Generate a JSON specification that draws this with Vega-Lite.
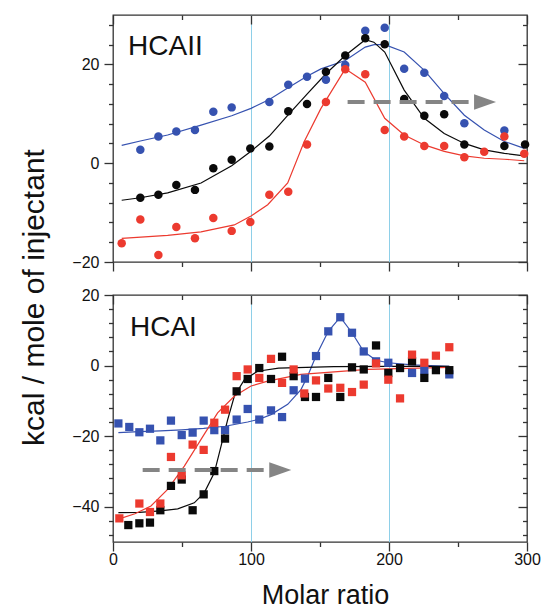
{
  "$schema": "https://vega.github.io/schema/vega-lite/v6.json",
  "padding": {"left": 18, "top": 13, "right": 5, "bottom": 0},
  "background": "white",
  "spacing": 33,
  "bounds": "flush",
  "config": {
    "view": {"stroke": "#333333", "strokeWidth": 1.3},
    "font": "Liberation Sans",
    "axis": {
      "labelFont": "Liberation Sans", "labelFontSize": 16, "labelColor": "#111111",
      "tickColor": "#333333", "tickWidth": 1.3, "domain": false,
      "titleFont": "Liberation Sans", "titleFontWeight": "normal", "titleColor": "#111111",
      "grid": false, "labelOverlap": false, "labelFlush": false
    }
  },
  "datasets": {
    "top": [
      {"k":"pt","s":"blue","x":19.8,"y":2.7},{"k":"pt","s":"blue","x":32.9,"y":5.4},{"k":"pt","s":"blue","x":45.9,"y":6.4},{"k":"pt","s":"blue","x":59.4,"y":6.7},{"k":"pt","s":"blue","x":72.7,"y":10.4},{"k":"pt","s":"blue","x":86,"y":11.3},{"k":"pt","s":"blue","x":113.3,"y":12.4},{"k":"pt","s":"blue","x":127,"y":15.9},{"k":"pt","s":"blue","x":140.6,"y":17.5},{"k":"pt","s":"blue","x":154.3,"y":16.9},{"k":"pt","s":"blue","x":168.3,"y":19.9},{"k":"pt","s":"blue","x":182.8,"y":26.8},{"k":"pt","s":"blue","x":196.9,"y":27.4},{"k":"pt","s":"blue","x":211,"y":19.1},{"k":"pt","s":"blue","x":225.6,"y":18.3},{"k":"pt","s":"blue","x":240,"y":13.6},{"k":"pt","s":"blue","x":254.6,"y":8.1},{"k":"pt","s":"blue","x":283.6,"y":6.6},
      {"k":"pt","s":"black","x":19.8,"y":-7.0},{"k":"pt","s":"black","x":32.9,"y":-6.4},{"k":"pt","s":"black","x":45.9,"y":-4.4},{"k":"pt","s":"black","x":59.4,"y":-5.4},{"k":"pt","s":"black","x":72.7,"y":-1.0},{"k":"pt","s":"black","x":86,"y":0.7},{"k":"pt","s":"black","x":99.5,"y":3.0},{"k":"pt","s":"black","x":113.3,"y":3.4},{"k":"pt","s":"black","x":127,"y":10.5},{"k":"pt","s":"black","x":140.6,"y":12.0},{"k":"pt","s":"black","x":154.3,"y":18.5},{"k":"pt","s":"black","x":168.3,"y":21.8},{"k":"pt","s":"black","x":182.8,"y":25.3},{"k":"pt","s":"black","x":196.9,"y":24.1},{"k":"pt","s":"black","x":211,"y":13.0},{"k":"pt","s":"black","x":225.6,"y":9.6},{"k":"pt","s":"black","x":240,"y":9.9},{"k":"pt","s":"black","x":254.6,"y":3.8},{"k":"pt","s":"black","x":283.6,"y":3.5},{"k":"pt","s":"black","x":298.6,"y":3.8},
      {"k":"pt","s":"red","x":6.3,"y":-16.2},{"k":"pt","s":"red","x":19.8,"y":-11.4},{"k":"pt","s":"red","x":32.9,"y":-18.6},{"k":"pt","s":"red","x":45.9,"y":-12.9},{"k":"pt","s":"red","x":59.4,"y":-15.2},{"k":"pt","s":"red","x":72.7,"y":-11.1},{"k":"pt","s":"red","x":86,"y":-13.7},{"k":"pt","s":"red","x":99.5,"y":-11.9},{"k":"pt","s":"red","x":113.3,"y":-6.4},{"k":"pt","s":"red","x":127,"y":-5.8},{"k":"pt","s":"red","x":140.6,"y":3.8},{"k":"pt","s":"red","x":154.3,"y":12.4},{"k":"pt","s":"red","x":168.3,"y":19.0},{"k":"pt","s":"red","x":182.8,"y":18.0},{"k":"pt","s":"red","x":196.9,"y":6.7},{"k":"pt","s":"red","x":211,"y":5.4},{"k":"pt","s":"red","x":225.6,"y":3.5},{"k":"pt","s":"red","x":240,"y":3.5},{"k":"pt","s":"red","x":254.6,"y":1.2},{"k":"pt","s":"red","x":269,"y":2.3},{"k":"pt","s":"red","x":283.6,"y":5.4},{"k":"pt","s":"red","x":298,"y":1.9},
      {"k":"fit","s":"blue","x":6.3,"y":3.6},{"k":"fit","s":"blue","x":19.8,"y":4.5},{"k":"fit","s":"blue","x":39.6,"y":5.7},{"k":"fit","s":"blue","x":63.8,"y":7.7},{"k":"fit","s":"blue","x":86,"y":9.6},{"k":"fit","s":"blue","x":100,"y":11.1},{"k":"fit","s":"blue","x":113.3,"y":12.9},{"k":"fit","s":"blue","x":126.6,"y":15.2},{"k":"fit","s":"blue","x":140.6,"y":17.6},{"k":"fit","s":"blue","x":150.7,"y":19.1},{"k":"fit","s":"blue","x":168.3,"y":20.8},{"k":"fit","s":"blue","x":182.8,"y":23.5},{"k":"fit","s":"blue","x":189.3,"y":24.0},{"k":"fit","s":"blue","x":196.9,"y":24.0},{"k":"fit","s":"blue","x":211,"y":22.5},{"k":"fit","s":"blue","x":225.6,"y":18.8},{"k":"fit","s":"blue","x":240,"y":14.1},{"k":"fit","s":"blue","x":254.6,"y":9.7},{"k":"fit","s":"blue","x":269,"y":6.7},{"k":"fit","s":"blue","x":283.6,"y":4.4},{"k":"fit","s":"blue","x":298,"y":3.0},
      {"k":"fit","s":"black","x":6.3,"y":-7.5},{"k":"fit","s":"black","x":19.8,"y":-7.0},{"k":"fit","s":"black","x":39.6,"y":-6.0},{"k":"fit","s":"black","x":63.8,"y":-4.0},{"k":"fit","s":"black","x":86,"y":-0.5},{"k":"fit","s":"black","x":100,"y":2.4},{"k":"fit","s":"black","x":113.3,"y":5.5},{"k":"fit","s":"black","x":126.6,"y":9.7},{"k":"fit","s":"black","x":140.6,"y":14.0},{"k":"fit","s":"black","x":154.3,"y":18.1},{"k":"fit","s":"black","x":168.3,"y":21.8},{"k":"fit","s":"black","x":182.8,"y":25.0},{"k":"fit","s":"black","x":189,"y":24.5},{"k":"fit","s":"black","x":196.9,"y":22.5},{"k":"fit","s":"black","x":211,"y":14.8},{"k":"fit","s":"black","x":225.6,"y":9.1},{"k":"fit","s":"black","x":240,"y":6.0},{"k":"fit","s":"black","x":254.6,"y":4.0},{"k":"fit","s":"black","x":269,"y":2.7},{"k":"fit","s":"black","x":283.6,"y":2.0},{"k":"fit","s":"black","x":298,"y":1.5},
      {"k":"fit","s":"red","x":6.3,"y":-15.2},{"k":"fit","s":"red","x":39.6,"y":-14.6},{"k":"fit","s":"red","x":63.8,"y":-13.9},{"k":"fit","s":"red","x":87.9,"y":-12.5},{"k":"fit","s":"red","x":100,"y":-10.7},{"k":"fit","s":"red","x":112.1,"y":-8.4},{"k":"fit","s":"red","x":126.6,"y":-4.0},{"k":"fit","s":"red","x":138.6,"y":4.4},{"k":"fit","s":"red","x":150.7,"y":11.1},{"k":"fit","s":"red","x":168.3,"y":19.1},{"k":"fit","s":"red","x":182.8,"y":16.4},{"k":"fit","s":"red","x":196.9,"y":9.1},{"k":"fit","s":"red","x":211,"y":5.7},{"k":"fit","s":"red","x":225.6,"y":3.7},{"k":"fit","s":"red","x":240,"y":2.4},{"k":"fit","s":"red","x":254.6,"y":1.5},{"k":"fit","s":"red","x":269,"y":1.0},{"k":"fit","s":"red","x":283.6,"y":0.8},{"k":"fit","s":"red","x":298,"y":0.5},
      {"k":"arrow","x":170,"y":12.4},{"k":"arrow","x":262,"y":12.4},
      {"k":"head","x":269.6,"y":12.4},
      {"k":"label","x":10.9,"y":21.9,"t":"HCAII"}
    ],
    "bot": [
      {"k":"pt","s":"blue","x":3.9,"y":-16.4},{"k":"pt","s":"blue","x":11.8,"y":-17.4},{"k":"pt","s":"blue","x":19.1,"y":-18.9},{"k":"pt","s":"blue","x":26.8,"y":-17.9},{"k":"pt","s":"blue","x":34.3,"y":-21.2},{"k":"pt","s":"blue","x":42,"y":-15.6},{"k":"pt","s":"blue","x":49.8,"y":-19.7},{"k":"pt","s":"blue","x":57.7,"y":-19.0},{"k":"pt","s":"blue","x":65.7,"y":-15.6},{"k":"pt","s":"blue","x":73.4,"y":-18.3},{"k":"pt","s":"blue","x":81.2,"y":-18.3},{"k":"pt","s":"blue","x":89.6,"y":-15.3},{"k":"pt","s":"blue","x":97.6,"y":-12.3},{"k":"pt","s":"blue","x":106,"y":-15.3},{"k":"pt","s":"blue","x":114.5,"y":-12.7},{"k":"pt","s":"blue","x":122.5,"y":-14.6},{"k":"pt","s":"blue","x":130.9,"y":-7.0},{"k":"pt","s":"blue","x":139.1,"y":-3.7},{"k":"pt","s":"blue","x":147.1,"y":2.7},{"k":"pt","s":"blue","x":156,"y":9.7},{"k":"pt","s":"blue","x":164.7,"y":13.7},{"k":"pt","s":"blue","x":173.2,"y":9.3},{"k":"pt","s":"blue","x":181.7,"y":4.0},{"k":"pt","s":"blue","x":190.6,"y":1.2},{"k":"pt","s":"blue","x":199.5,"y":0.8},{"k":"pt","s":"blue","x":216.7,"y":-2.1},{"k":"pt","s":"blue","x":225.6,"y":-1.3},{"k":"pt","s":"blue","x":243.7,"y":-2.5},
      {"k":"pt","s":"black","x":11.1,"y":-45.2},{"k":"pt","s":"black","x":19.1,"y":-44.7},{"k":"pt","s":"black","x":26.8,"y":-44.5},{"k":"pt","s":"black","x":34.3,"y":-41.0},{"k":"pt","s":"black","x":42,"y":-34.1},{"k":"pt","s":"black","x":49.8,"y":-32.3},{"k":"pt","s":"black","x":57.7,"y":-41.0},{"k":"pt","s":"black","x":65.7,"y":-36.5},{"k":"pt","s":"black","x":73.4,"y":-29.9},{"k":"pt","s":"black","x":81.2,"y":-20.7},{"k":"pt","s":"black","x":89.6,"y":-7.3},{"k":"pt","s":"black","x":97.6,"y":-3.8},{"k":"pt","s":"black","x":106,"y":-0.7},{"k":"pt","s":"black","x":114.5,"y":-3.8},{"k":"pt","s":"black","x":122.5,"y":2.5},{"k":"pt","s":"black","x":130.9,"y":-3.0},{"k":"pt","s":"black","x":139.1,"y":-8.9},{"k":"pt","s":"black","x":147.1,"y":-8.9},{"k":"pt","s":"black","x":156,"y":-3.5},{"k":"pt","s":"black","x":164.7,"y":-8.9},{"k":"pt","s":"black","x":173.2,"y":-0.5},{"k":"pt","s":"black","x":181.7,"y":-1.1},{"k":"pt","s":"black","x":190.6,"y":5.7},{"k":"pt","s":"black","x":199.5,"y":-2.1},{"k":"pt","s":"black","x":208,"y":-0.7},{"k":"pt","s":"black","x":216.7,"y":1.2},{"k":"pt","s":"black","x":225.6,"y":-3.5},{"k":"pt","s":"black","x":234,"y":-1.3},{"k":"pt","s":"black","x":243.7,"y":-1.3},
      {"k":"pt","s":"red","x":4.6,"y":-43.3},{"k":"pt","s":"red","x":19.1,"y":-39.1},{"k":"pt","s":"red","x":26.8,"y":-41.5},{"k":"pt","s":"red","x":34.3,"y":-39.1},{"k":"pt","s":"red","x":42,"y":-25.9},{"k":"pt","s":"red","x":49.8,"y":-31.1},{"k":"pt","s":"red","x":57.7,"y":-22.4},{"k":"pt","s":"red","x":65.7,"y":-23.9},{"k":"pt","s":"red","x":73.4,"y":-16.2},{"k":"pt","s":"red","x":81.2,"y":-12.5},{"k":"pt","s":"red","x":89.6,"y":-3.0},{"k":"pt","s":"red","x":97.6,"y":-1.1},{"k":"pt","s":"red","x":106,"y":-3.5},{"k":"pt","s":"red","x":114.5,"y":1.9},{"k":"pt","s":"red","x":122.5,"y":-4.9},{"k":"pt","s":"red","x":130.9,"y":-1.1},{"k":"pt","s":"red","x":138.6,"y":-7.9},{"k":"pt","s":"red","x":147.1,"y":-4.2},{"k":"pt","s":"red","x":156,"y":-6.5},{"k":"pt","s":"red","x":164.7,"y":-6.3},{"k":"pt","s":"red","x":173.2,"y":-7.5},{"k":"pt","s":"red","x":181.7,"y":-5.4},{"k":"pt","s":"red","x":190.6,"y":0.6},{"k":"pt","s":"red","x":199.5,"y":-4.0},{"k":"pt","s":"red","x":208,"y":-9.3},{"k":"pt","s":"red","x":216.7,"y":3.1},{"k":"pt","s":"red","x":225.6,"y":0.8},{"k":"pt","s":"red","x":234,"y":2.8},{"k":"pt","s":"red","x":243.7,"y":5.2},
      {"k":"fit","s":"blue","x":3.9,"y":-19.0},{"k":"fit","s":"blue","x":19.1,"y":-18.7},{"k":"fit","s":"blue","x":34.3,"y":-18.5},{"k":"fit","s":"blue","x":49.8,"y":-18.2},{"k":"fit","s":"blue","x":65.7,"y":-17.8},{"k":"fit","s":"blue","x":81.2,"y":-17.2},{"k":"fit","s":"blue","x":97.6,"y":-16.0},{"k":"fit","s":"blue","x":106,"y":-15.2},{"k":"fit","s":"blue","x":114.5,"y":-13.9},{"k":"fit","s":"blue","x":126.6,"y":-11.0},{"k":"fit","s":"blue","x":136.2,"y":-6.8},{"k":"fit","s":"blue","x":141,"y":-3.0},{"k":"fit","s":"blue","x":147.1,"y":2.7},{"k":"fit","s":"blue","x":156,"y":9.7},{"k":"fit","s":"blue","x":164.7,"y":13.7},{"k":"fit","s":"blue","x":173.2,"y":9.3},{"k":"fit","s":"blue","x":181.7,"y":4.0},{"k":"fit","s":"blue","x":190.6,"y":1.5},{"k":"fit","s":"blue","x":199.5,"y":0.8},{"k":"fit","s":"blue","x":216.7,"y":0.2},{"k":"fit","s":"blue","x":243.7,"y":-0.2},
      {"k":"fit","s":"black","x":3.9,"y":-41.7},{"k":"fit","s":"black","x":19.1,"y":-41.6},{"k":"fit","s":"black","x":34.3,"y":-41.2},{"k":"fit","s":"black","x":46.9,"y":-40.6},{"k":"fit","s":"black","x":58.9,"y":-38.9},{"k":"fit","s":"black","x":66.2,"y":-36.0},{"k":"fit","s":"black","x":73.4,"y":-30.4},{"k":"fit","s":"black","x":78.3,"y":-22.8},{"k":"fit","s":"black","x":83.1,"y":-15.3},{"k":"fit","s":"black","x":87.9,"y":-8.7},{"k":"fit","s":"black","x":95.2,"y":-4.0},{"k":"fit","s":"black","x":104.8,"y":-1.6},{"k":"fit","s":"black","x":120,"y":-0.7},{"k":"fit","s":"black","x":160,"y":-0.3},{"k":"fit","s":"black","x":200,"y":-0.2},{"k":"fit","s":"black","x":243.7,"y":-0.2},
      {"k":"fit","s":"red","x":3.9,"y":-43.5},{"k":"fit","s":"red","x":15.9,"y":-42.0},{"k":"fit","s":"red","x":27.5,"y":-39.8},{"k":"fit","s":"red","x":39.6,"y":-35.1},{"k":"fit","s":"red","x":51.7,"y":-28.5},{"k":"fit","s":"red","x":63.8,"y":-20.9},{"k":"fit","s":"red","x":75.8,"y":-13.4},{"k":"fit","s":"red","x":87.9,"y":-8.7},{"k":"fit","s":"red","x":100,"y":-5.8},{"k":"fit","s":"red","x":112.1,"y":-4.4},{"k":"fit","s":"red","x":136.2,"y":-2.5},{"k":"fit","s":"red","x":184.5,"y":-1.1},{"k":"fit","s":"red","x":243.7,"y":-0.5},
      {"k":"arrow","x":21.5,"y":-29.6},{"k":"arrow","x":113,"y":-29.6},
      {"k":"head","x":121.2,"y":-29.6},
      {"k":"label","x":12.3,"y":8.4,"t":"HCAI"}
    ]
  },
  "vconcat": [
    {
      "width": 414, "height": 247,
      "data": {"name": "top"},
      "layer": [
        {
          "transform": [{"filter": "datum.k === 'fit'"}],
          "mark": {"type": "line", "strokeWidth": 1.2},
          "encoding": {
            "x": {"field": "x", "type": "quantitative", "scale": {"domain": [0, 300], "nice": false, "zero": false},
                  "axis": {"orient": "bottom", "values": [0, 50, 100, 150, 200, 250, 300], "labels": false, "title": null,
                           "tickSize": {"condition": {"test": "datum.value % 100 === 0", "value": 9}, "value": 4.5},
                           "grid": true, "gridColor": "#8ecfe8", "gridWidth": 1,
                           "gridOpacity": {"condition": {"test": "datum.value === 100 || datum.value === 200", "value": 1}, "value": 0}}},
            "y": {"field": "y", "type": "quantitative", "scale": {"domain": [-20, 30], "nice": false, "zero": false},
                  "axis": {"orient": "left", "values": [-20, -16, -12, -8, -4, 0, 4, 8, 12, 16, 20, 24, 28], "title": null,
                           "labelExpr": "datum.value % 20 === 0 ? datum.label : ''", "labelPadding": 5,
                           "tickSize": {"condition": {"test": "datum.value % 20 === 0", "value": 9}, "value": 4.5}}},
            "color": {"field": "s", "type": "nominal", "scale": {"domain": ["blue", "black", "red"], "range": ["#3652b0", "#0a0a0a", "#ec3a2f"]}, "legend": null}
          }
        },
        {
          "transform": [{"filter": "datum.k === 'pt'"}],
          "mark": {"type": "circle", "size": 72, "opacity": 1},
          "encoding": {
            "x": {"field": "x", "type": "quantitative", "scale": {"domain": [0, 300], "nice": false, "zero": false},
                  "axis": {"orient": "top", "values": [0, 50, 100, 150, 200, 250, 300], "labels": false, "title": null,
                           "tickSize": {"condition": {"test": "datum.value % 100 === 0", "value": -9}, "value": -4.5}}},
            "y": {"field": "y", "type": "quantitative", "scale": {"domain": [-20, 30], "nice": false, "zero": false},
                  "axis": {"orient": "right", "values": [-20, -16, -12, -8, -4, 0, 4, 8, 12, 16, 20, 24, 28], "labels": false, "title": null,
                           "tickSize": {"condition": {"test": "datum.value % 20 === 0", "value": -9}, "value": -4.5}}},
            "color": {"field": "s", "type": "nominal", "scale": {"domain": ["blue", "black", "red"], "range": ["#3652b0", "#0a0a0a", "#ec3a2f"]}, "legend": null}
          }
        },
        {
          "transform": [{"filter": "datum.k === 'arrow'"}],
          "mark": {"type": "line", "color": "#858585", "strokeWidth": 4, "strokeDash": [17, 9], "strokeCap": "butt"},
          "encoding": {
            "x": {"field": "x", "type": "quantitative", "scale": {"domain": [0, 300], "nice": false, "zero": false}, "axis": null},
            "y": {"field": "y", "type": "quantitative", "scale": {"domain": [-20, 30], "nice": false, "zero": false}, "axis": null}
          }
        },
        {
          "transform": [{"filter": "datum.k === 'head'"}],
          "mark": {"type": "point", "shape": "M-1,-0.7L1,0L-1,0.7Z", "filled": true, "size": 484, "color": "#858585", "opacity": 1},
          "encoding": {
            "x": {"field": "x", "type": "quantitative", "scale": {"domain": [0, 300], "nice": false, "zero": false}, "axis": null},
            "y": {"field": "y", "type": "quantitative", "scale": {"domain": [-20, 30], "nice": false, "zero": false}, "axis": null}
          }
        },
        {
          "transform": [{"filter": "datum.k === 'label'"}],
          "mark": {"type": "text", "align": "left", "baseline": "alphabetic", "fontSize": 28, "font": "Liberation Sans", "color": "#111111"},
          "encoding": {
            "x": {"field": "x", "type": "quantitative", "scale": {"domain": [0, 300], "nice": false, "zero": false}, "axis": null},
            "y": {"field": "y", "type": "quantitative", "scale": {"domain": [-20, 30], "nice": false, "zero": false}, "axis": null},
            "text": {"field": "t"}
          }
        }
      ],
      "resolve": {"axis": {"x": "independent", "y": "independent"}}
    },
    {
      "width": 414, "height": 247,
      "data": {"name": "bot"},
      "layer": [
        {
          "transform": [{"filter": "datum.k === 'fit'"}],
          "mark": {"type": "line", "strokeWidth": 1.2},
          "encoding": {
            "x": {"field": "x", "type": "quantitative", "scale": {"domain": [0, 300], "nice": false, "zero": false},
                  "axis": {"orient": "bottom", "values": [0, 50, 100, 150, 200, 250, 300], "title": "Molar ratio",
                           "labelExpr": "datum.value % 100 === 0 ? datum.label : ''", "labelPadding": 0,
                           "titleFontSize": 27, "titleBaseline": "alphabetic", "titleY": 61, "titleX": 212,
                           "tickSize": {"condition": {"test": "datum.value % 100 === 0", "value": 9}, "value": 4.5},
                           "grid": true, "gridColor": "#8ecfe8", "gridWidth": 1,
                           "gridOpacity": {"condition": {"test": "datum.value === 100 || datum.value === 200", "value": 1}, "value": 0}}},
            "y": {"field": "y", "type": "quantitative", "scale": {"domain": [-50, 20], "nice": false, "zero": false},
                  "axis": {"orient": "left", "values": [-48, -44, -40, -36, -32, -28, -24, -20, -16, -12, -8, -4, 0, 4, 8, 12, 16, 20],
                           "title": "kcal / mole of injectant", "titleFontSize": 30, "titleBaseline": "alphabetic", "titleX": -70, "titleY": 2,
                           "labelExpr": "datum.value % 20 === 0 ? datum.label : ''", "labelPadding": 5,
                           "tickSize": {"condition": {"test": "datum.value % 20 === 0", "value": 9}, "value": 4.5}}},
            "color": {"field": "s", "type": "nominal", "scale": {"domain": ["blue", "black", "red"], "range": ["#3652b0", "#0a0a0a", "#ec3a2f"]}, "legend": null}
          }
        },
        {
          "transform": [{"filter": "datum.k === 'pt'"}],
          "mark": {"type": "square", "size": 68, "opacity": 1},
          "encoding": {
            "x": {"field": "x", "type": "quantitative", "scale": {"domain": [0, 300], "nice": false, "zero": false},
                  "axis": {"orient": "top", "values": [0, 50, 100, 150, 200, 250, 300], "labels": false, "title": null,
                           "tickSize": {"condition": {"test": "datum.value % 100 === 0", "value": -9}, "value": -4.5}}},
            "y": {"field": "y", "type": "quantitative", "scale": {"domain": [-50, 20], "nice": false, "zero": false},
                  "axis": {"orient": "right", "values": [-48, -44, -40, -36, -32, -28, -24, -20, -16, -12, -8, -4, 0, 4, 8, 12, 16, 20], "labels": false, "title": null,
                           "tickSize": {"condition": {"test": "datum.value % 20 === 0", "value": -9}, "value": -4.5}}},
            "color": {"field": "s", "type": "nominal", "scale": {"domain": ["blue", "black", "red"], "range": ["#3652b0", "#0a0a0a", "#ec3a2f"]}, "legend": null}
          }
        },
        {
          "transform": [{"filter": "datum.k === 'arrow'"}],
          "mark": {"type": "line", "color": "#858585", "strokeWidth": 4, "strokeDash": [17, 9], "strokeCap": "butt"},
          "encoding": {
            "x": {"field": "x", "type": "quantitative", "scale": {"domain": [0, 300], "nice": false, "zero": false}, "axis": null},
            "y": {"field": "y", "type": "quantitative", "scale": {"domain": [-50, 20], "nice": false, "zero": false}, "axis": null}
          }
        },
        {
          "transform": [{"filter": "datum.k === 'head'"}],
          "mark": {"type": "point", "shape": "M-1,-0.7L1,0L-1,0.7Z", "filled": true, "size": 484, "color": "#858585", "opacity": 1},
          "encoding": {
            "x": {"field": "x", "type": "quantitative", "scale": {"domain": [0, 300], "nice": false, "zero": false}, "axis": null},
            "y": {"field": "y", "type": "quantitative", "scale": {"domain": [-50, 20], "nice": false, "zero": false}, "axis": null}
          }
        },
        {
          "transform": [{"filter": "datum.k === 'label'"}],
          "mark": {"type": "text", "align": "left", "baseline": "alphabetic", "fontSize": 28, "font": "Liberation Sans", "color": "#111111"},
          "encoding": {
            "x": {"field": "x", "type": "quantitative", "scale": {"domain": [0, 300], "nice": false, "zero": false}, "axis": null},
            "y": {"field": "y", "type": "quantitative", "scale": {"domain": [-50, 20], "nice": false, "zero": false}, "axis": null},
            "text": {"field": "t"}
          }
        }
      ],
      "resolve": {"axis": {"x": "independent", "y": "independent"}}
    }
  ]
}
